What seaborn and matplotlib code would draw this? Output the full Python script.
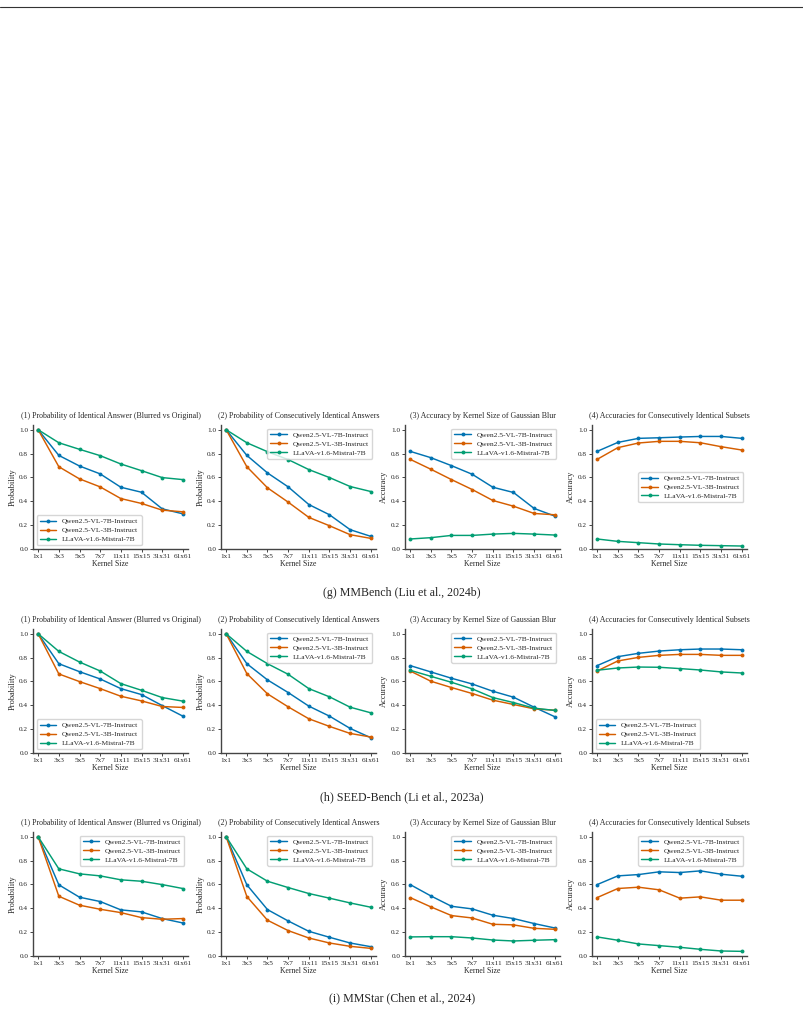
import pandas as pd
import seaborn as sns
import matplotlib.pyplot as plt
from matplotlib.lines import Line2D

kernels = ['1x1', '3x3', '5x5', '7x7', '11x11', '15x15', '31x31', '61x61']
models = ['Qwen2.5-VL-7B-Instruct', 'Qwen2.5-VL-3B-Instruct', 'LLaVA-v1.6-Mistral-7B']
colors = ['#0173b2', '#d55e00', '#029e73']

titles = ['(1) Probability of Identical Answer (Blurred vs Original)',
          '(2) Probability of Consecutively Identical Answers',
          '(3) Accuracy by Kernel Size of Gaussian Blur',
          '(4) Accuracies for Consecutively Identical Subsets']
ylabels = ['Probability', 'Probability', 'Accuracy', 'Accuracy']
captions = ['(g) MMBench (Liu et al., 2024b)',
            '(h) SEED-Bench (Li et al., 2023a)',
            '(i) MMStar (Chen et al., 2024)']

# (g) MMBench
mmb1_7b = [1.0, 0.785, 0.696, 0.63, 0.518, 0.476, 0.337, 0.295]
mmb1_3b = [1.0, 0.69, 0.588, 0.521, 0.423, 0.382, 0.326, 0.312]
mmb1_lv = [1.0, 0.891, 0.836, 0.783, 0.713, 0.657, 0.599, 0.582]
mmb2_7b = [1.0, 0.785, 0.638, 0.521, 0.373, 0.287, 0.162, 0.106]
mmb2_3b = [1.0, 0.69, 0.513, 0.393, 0.265, 0.195, 0.12, 0.089]
mmb2_lv = [1.0, 0.891, 0.816, 0.75, 0.666, 0.599, 0.524, 0.482]
mmb3_7b = [0.819, 0.766, 0.699, 0.627, 0.518, 0.474, 0.34, 0.276]
mmb3_3b = [0.752, 0.669, 0.582, 0.499, 0.407, 0.359, 0.298, 0.287]
mmb3_lv = [0.084, 0.095, 0.114, 0.114, 0.125, 0.131, 0.125, 0.117]
mmb4_7b = [0.819, 0.894, 0.928, 0.933, 0.939, 0.944, 0.944, 0.928]
mmb4_3b = [0.752, 0.85, 0.889, 0.903, 0.903, 0.891, 0.858, 0.83]
mmb4_lv = [0.084, 0.064, 0.053, 0.042, 0.036, 0.031, 0.028, 0.025]

# (h) SEED-Bench
seed1_7b = [1.0, 0.749, 0.682, 0.621, 0.54, 0.49, 0.398, 0.309]
seed1_3b = [1.0, 0.663, 0.599, 0.54, 0.476, 0.437, 0.39, 0.382]
seed1_lv = [1.0, 0.852, 0.763, 0.688, 0.582, 0.526, 0.465, 0.435]
seed2_7b = [1.0, 0.749, 0.613, 0.507, 0.393, 0.309, 0.206, 0.128]
seed2_3b = [1.0, 0.666, 0.496, 0.387, 0.287, 0.223, 0.164, 0.134]
seed2_lv = [1.0, 0.852, 0.749, 0.66, 0.54, 0.471, 0.384, 0.337]
seed3_7b = [0.733, 0.68, 0.627, 0.579, 0.518, 0.468, 0.384, 0.304]
seed3_3b = [0.688, 0.602, 0.549, 0.499, 0.443, 0.407, 0.37, 0.359]
seed3_lv = [0.694, 0.643, 0.593, 0.538, 0.465, 0.423, 0.376, 0.357]
seed4_7b = [0.733, 0.808, 0.836, 0.855, 0.866, 0.872, 0.872, 0.866]
seed4_3b = [0.688, 0.772, 0.802, 0.819, 0.827, 0.827, 0.819, 0.819]
seed4_lv = [0.694, 0.713, 0.721, 0.719, 0.708, 0.696, 0.68, 0.671]

# (i) MMStar
star1_7b = [1.0, 0.597, 0.493, 0.457, 0.387, 0.37, 0.314, 0.277]
star1_3b = [1.0, 0.501, 0.426, 0.392, 0.364, 0.322, 0.308, 0.314]
star1_lv = [1.0, 0.731, 0.689, 0.672, 0.639, 0.627, 0.599, 0.566]
star2_7b = [1.0, 0.597, 0.389, 0.294, 0.207, 0.157, 0.109, 0.078]
star2_3b = [1.0, 0.499, 0.3, 0.213, 0.151, 0.109, 0.081, 0.064]
star2_lv = [1.0, 0.731, 0.627, 0.574, 0.524, 0.485, 0.445, 0.409]
star3_7b = [0.599, 0.504, 0.417, 0.395, 0.342, 0.314, 0.272, 0.235]
star3_3b = [0.49, 0.412, 0.339, 0.319, 0.266, 0.261, 0.232, 0.224]
star3_lv = [0.16, 0.162, 0.162, 0.151, 0.134, 0.126, 0.132, 0.137]
star4_7b = [0.599, 0.672, 0.683, 0.706, 0.7, 0.714, 0.686, 0.669]
star4_3b = [0.49, 0.566, 0.577, 0.555, 0.485, 0.496, 0.468, 0.468]
star4_lv = [0.16, 0.132, 0.101, 0.087, 0.073, 0.056, 0.042, 0.039]

rows = [
    [(mmb1_7b, mmb1_3b, mmb1_lv), (mmb2_7b, mmb2_3b, mmb2_lv),
     (mmb3_7b, mmb3_3b, mmb3_lv), (mmb4_7b, mmb4_3b, mmb4_lv)],
    [(seed1_7b, seed1_3b, seed1_lv), (seed2_7b, seed2_3b, seed2_lv),
     (seed3_7b, seed3_3b, seed3_lv), (seed4_7b, seed4_3b, seed4_lv)],
    [(star1_7b, star1_3b, star1_lv), (star2_7b, star2_3b, star2_lv),
     (star3_7b, star3_3b, star3_lv), (star4_7b, star4_3b, star4_lv)],
]
legend_locs = [
    ['lower left', 'upper right', 'upper right', 'center right'],
    ['lower left', 'upper right', 'upper right', 'lower left'],
    ['upper right', 'upper right', 'upper right', 'upper right'],
]

sns.set_style('ticks')
plt.rcParams['font.family'] = ['Liberation Serif', 'DejaVu Serif']

fig = plt.figure(figsize=(8.04, 10.35), dpi=100)

# page rule at the top
fig.add_artist(Line2D([0.0, 1.0], [1 - 7 / 1035, 1 - 7 / 1035], color='#333333', lw=0.8))

lefts = [33, 221, 405, 592]
bottoms = [549, 753, 956]
caption_y = [593, 797, 998]
w_px, h_px = 155, 124

for r in range(3):
    for c in range(4):
        ax = fig.add_axes([lefts[c] / 804, 1 - bottoms[r] / 1035, w_px / 804, h_px / 1035])
        s7, s3, slv = rows[r][c]
        df = pd.DataFrame({
            'Kernel Size': kernels * 3,
            'value': s7 + s3 + slv,
            'model': [models[0]] * 8 + [models[1]] * 8 + [models[2]] * 8,
        })
        sns.lineplot(data=df, x='Kernel Size', y='value', hue='model', hue_order=models,
                     palette=colors, marker='o', markersize=2.8, markeredgewidth=0,
                     linewidth=1.05, sort=False, ax=ax)
        ax.set_ylim(0, 1.04)
        ax.set_xlim(-0.25, 7.25)
        ax.set_yticks([0.0, 0.2, 0.4, 0.6, 0.8, 1.0])
        ax.set_title(titles[c], fontsize=5.7, pad=5)
        ax.set_ylabel(ylabels[c], fontsize=6.0, labelpad=2)
        ax.set_xlabel('Kernel Size', fontsize=5.6, labelpad=1)
        ax.tick_params(labelsize=5.2, length=2, width=0.6, pad=1.5)
        sns.despine(ax=ax)
        for sp in ['left', 'bottom']:
            ax.spines[sp].set_linewidth(1.0)
            ax.spines[sp].set_color('#444444')
        ax.legend(loc=legend_locs[r][c], fontsize=5.4, frameon=True,
                  handlelength=2.2, borderpad=0.4, labelspacing=0.35)
    fig.text(0.5, 1 - caption_y[r] / 1035, captions[r], ha='center', va='center', fontsize=8.6)

fig.savefig('out.png', dpi=100)
